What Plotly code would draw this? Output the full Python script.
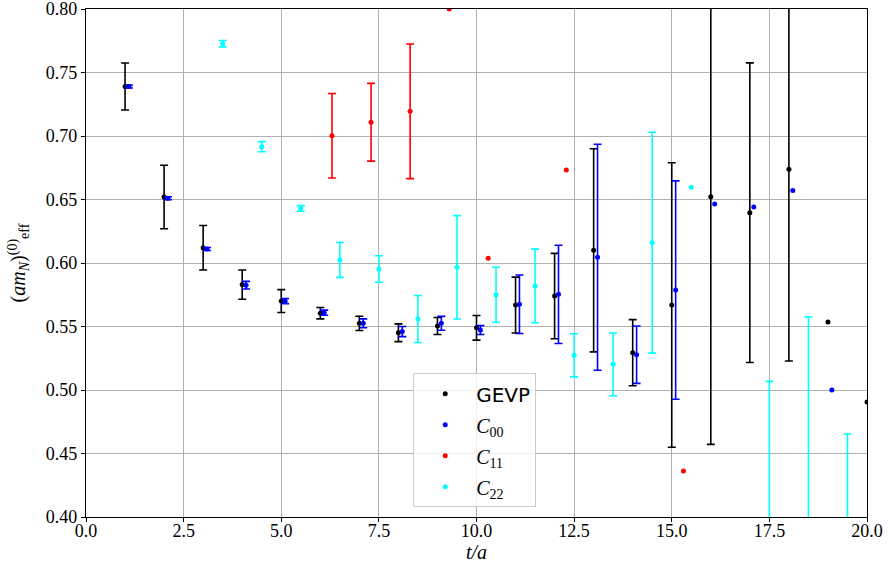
import plotly.graph_objects as go

nan = float("nan")

# GEVP effective mass per time slice
t_gevp = [1, 2, 3, 4, 5, 6, 7, 8, 9, 10, 11, 12, 13, 14, 15, 16, 17, 18, 19, 20]
m_gevp = [0.739, 0.652, 0.612, 0.583, 0.570, 0.5605, 0.5525, 0.5451, 0.5504, 0.549,
          0.5669, 0.574, 0.610, 0.5294, 0.5669, 0.6522, 0.6396, 0.6738, 0.5535, 0.4906]
e_gevp = [0.0185, 0.025, 0.0175, 0.0115, 0.009, 0.0045, 0.0056, 0.007, 0.0067, 0.0097,
          0.022, 0.0336, 0.080, 0.026, 0.112, 0.195, 0.118, 0.151, nan, nan]

# Diagonal correlator C00
t_c00 = [1.1, 2.1, 3.1, 4.1, 5.1, 6.1, 7.1, 8.1, 9.1, 10.1, 11.1, 12.1, 13.1, 14.1, 15.1,
         16.1, 17.1, 18.1, 19.1]
m_c00 = [0.739, 0.651, 0.611, 0.5825, 0.570, 0.5609, 0.5525, 0.546, 0.5525, 0.5472,
         0.5675, 0.5753, 0.6045, 0.5278, 0.5787, 0.6465, 0.6441, 0.657, 0.500]
e_c00 = [0.0012, 0.0012, 0.0012, 0.003, 0.002, 0.002, 0.0035, 0.004, 0.0055, 0.0035,
         0.023, 0.0387, 0.089, 0.0226, 0.086, nan, nan, nan, nan]

# Diagonal correlator C11
t_c11 = [6.3, 7.3, 8.3, 9.3, 10.3, 12.3, 15.3]
m_c11 = [0.7002, 0.7108, 0.7194, 0.800, 0.6037, 0.6732, 0.4362]
e_c11 = [0.0333, 0.0306, 0.053, nan, nan, nan, nan]

# Diagonal correlator C22
t_c22 = [3.5, 4.5, 5.5, 6.5, 7.5, 8.5, 9.5, 10.5, 11.5, 12.5, 13.5, 14.5, 15.5,
         17.5, 18.5, 19.5]
m_c22 = [0.7727, 0.6916, 0.643, 0.6024, 0.5953, 0.5559, 0.5966, 0.575, 0.5819, 0.5273,
         0.5202, 0.616, 0.6596, 0.350, 0.380, 0.330]
e_c22 = [0.0025, 0.004, 0.0022, 0.0137, 0.0104, 0.0185, 0.0407, 0.0217, 0.029, 0.017,
         0.0247, 0.087, nan, 0.1568, 0.1775, 0.1354]

sans = "DejaVu Sans"
serif = "Liberation Serif"

series = [
    ("<span style=\"font-family:'%s'\">GEVP</span>" % sans, t_gevp, m_gevp, e_gevp, "black"),
    ("<i>C</i><sub>00</sub>", t_c00, m_c00, e_c00, "blue"),
    ("<i>C</i><sub>11</sub>", t_c11, m_c11, e_c11, "red"),
    ("<i>C</i><sub>22</sub>", t_c22, m_c22, e_c22, "cyan"),
]

fig = go.Figure()
for i, (name, t, m, e, col) in enumerate(series):
    # points with a finite uncertainty get error bars
    ok = [k for k in range(len(t)) if e[k] == e[k]]
    no = [k for k in range(len(t)) if e[k] != e[k]]
    fig.add_trace(go.Scatter(
        x=[t[k] for k in ok], y=[m[k] for k in ok], mode="markers", name=name,
        legendgroup=str(i),
        marker=dict(color=col, size=5),
        error_y=dict(type="data", array=[e[k] for k in ok], visible=True, color=col,
                     thickness=1.6, width=4),
    ))
    # points without an uncertainty estimate: marker only
    if no:
        fig.add_trace(go.Scatter(
            x=[t[k] for k in no], y=[m[k] for k in no], mode="markers",
            legendgroup=str(i), showlegend=False,
            marker=dict(color=col, size=5),
        ))

axis_common = dict(
    showgrid=True, gridcolor="#b0b0b0", gridwidth=1,
    showline=True, linecolor="black", linewidth=1.2, mirror=True,
    ticks="outside", ticklen=4, tickcolor="black",
    tickfont=dict(family=serif, size=18, color="black"),
    zeroline=False, automargin=False, ticklabeloverflow="allow",
)
fig.update_xaxes(range=[0, 20], dtick=2.5, tick0=0, tickformat=".1f",
                 ticklabelstandoff=-7,
                 title=dict(text="<i>t/a</i>", font=dict(family=serif, size=20,
                                                           color="black"),
                            standoff=0),
                 **axis_common)
fig.update_yaxes(range=[0.40, 0.80], dtick=0.05, tick0=0.4, tickformat=".2f",
                 title=dict(text="(<i>am<sub>N</sub></i>)<sup>(0)</sup><sub>eff</sub>",
                            font=dict(family=serif, size=20, color="black"),
                            standoff=14),
                 **axis_common)

fig.update_layout(
    width=888, height=574,
    margin=dict(l=86, r=21, t=9, b=57),
    paper_bgcolor="white", plot_bgcolor="white",
    showlegend=True,
    legend=dict(
        x=0.419, y=0.283, xanchor="left", yanchor="top",
        bgcolor="rgba(255,255,255,0.8)", bordercolor="#cccccc", borderwidth=1,
        font=dict(family=serif, size=20, color="black"),
        tracegroupgap=2, itemwidth=52,
    ),
)

fig.write_html("out.html")
